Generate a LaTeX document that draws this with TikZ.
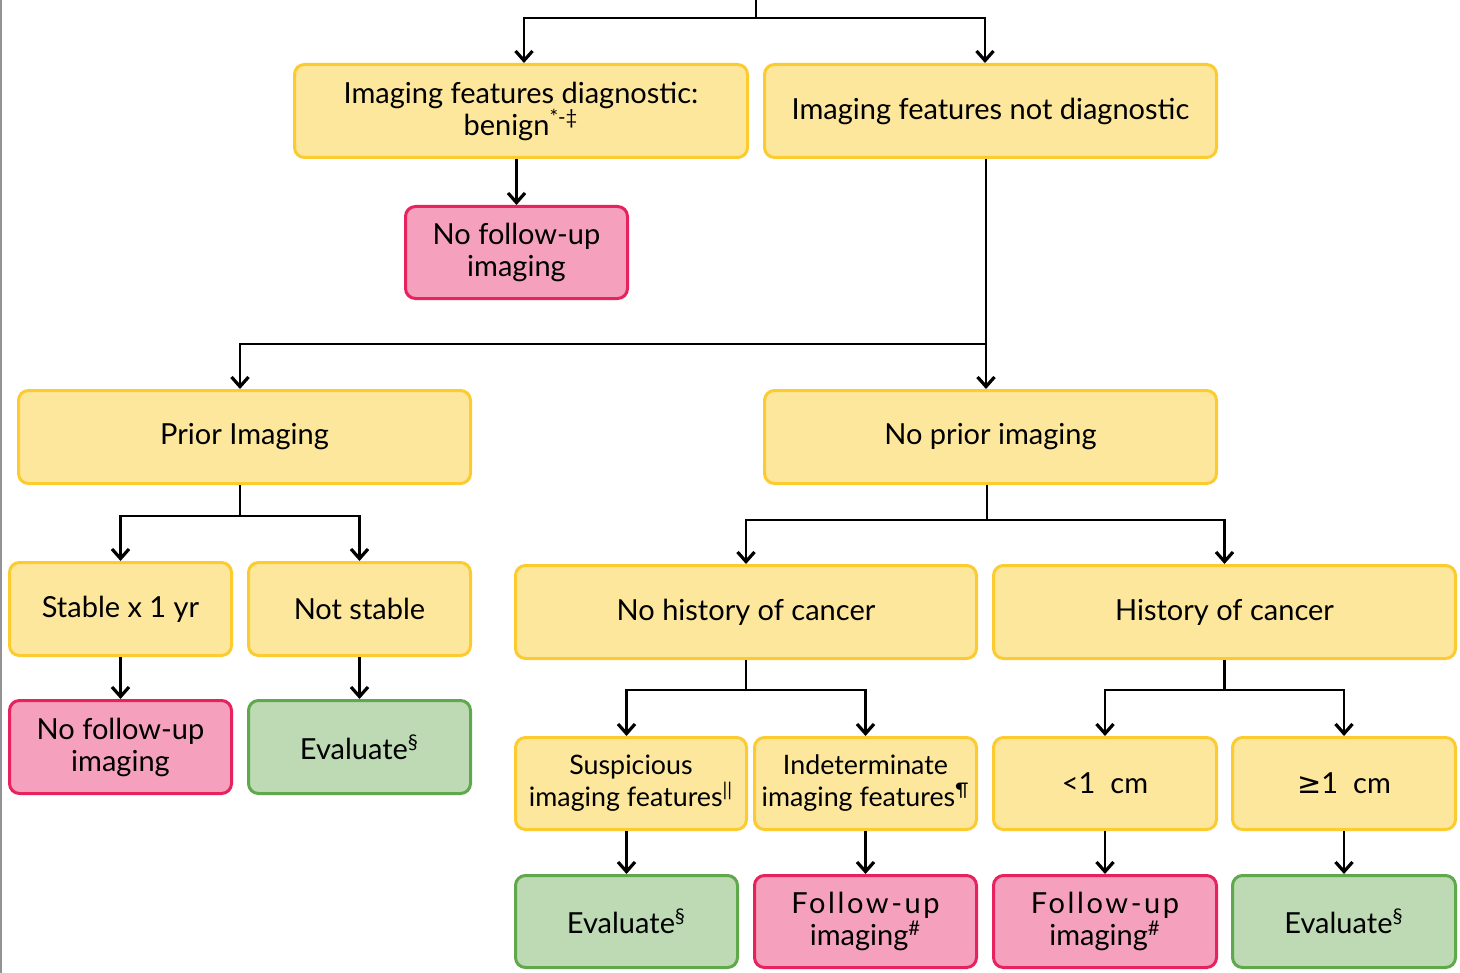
\documentclass[tikz,border=0pt]{standalone}
\usepackage{fontspec}
\setmainfont{Lato}
\newfontfamily\symfont{DejaVu Sans}
\usetikzlibrary{arrows.meta}
\definecolor{yelfill}{HTML}{FCE79C}
\definecolor{yeldraw}{HTML}{FCCB30}
\definecolor{pinkfill}{HTML}{F5A1BE}
\definecolor{pinkdraw}{HTML}{E8225F}
\definecolor{grnfill}{HTML}{BDDAB5}
\definecolor{grndraw}{HTML}{60A84C}
\newcommand{\sps}[1]{\textsuperscript{#1}}
\newcommand{\spaced}[1]{{\addfontfeatures{LetterSpace=9}#1}}
\tikzset{
  x=0.5pt, y=-0.5pt,
  box/.style={rounded corners=5pt, line width=1.5pt, align=center,
    font=\fontsize{14.5}{16}\selectfont, inner sep=2pt},
  ybox/.style={box, fill=yelfill, draw=yeldraw},
  pbox/.style={box, fill=pinkfill, draw=pinkdraw},
  gbox/.style={box, fill=grnfill, draw=grndraw},
  narrow/.style={font=\fontsize{13.4}{16}\selectfont, inner xsep=0pt},
  link/.style={line width=1.2pt, draw=black},
  arr/.style={link, -{Straight Barb[length=4.8pt, width=8.5pt, line width=1.6pt]}},
}
\begin{document}
\begin{tikzpicture}
\useasboundingbox (0,0) rectangle (1460,973);
\fill[white] (0,0) rectangle (1460,973);
% left page edge
\fill[gray!85] (0,0) rectangle (2,973);

% first level
\node[ybox, minimum width=226.5pt, minimum height=46.5pt] (A) at (521,111)
  {Imaging features diagnostic:\\benign\sps{*-‡}};
\node[ybox, minimum width=226pt, minimum height=46.5pt] (B) at (990.5,111)
  {Imaging features not diagnostic};
\node[pbox, minimum width=111pt, minimum height=46pt] (C) at (516.5,252.5)
  {No follow-up\\imaging};

% second level
\node[ybox, minimum width=226pt, minimum height=46.5pt] (D) at (244.5,437) {Prior Imaging};
\node[ybox, minimum width=226pt, minimum height=46.5pt] (E) at (990.5,437) {No prior imaging};

% prior imaging branch
\node[ybox, minimum width=111pt, minimum height=46.5pt] (F) at (120.5,609) {Stable x 1 yr};
\node[ybox, minimum width=111pt, minimum height=46.5pt] (G) at (359.5,609) {Not stable};
\node[pbox, minimum width=111pt, minimum height=46.5pt] (H) at (120.5,747) {No follow-up\\imaging};
\node[gbox, minimum width=111pt, minimum height=46.5pt] (I) at (359.5,747) {Evaluate\sps{§}};

% no prior imaging branch
\node[ybox, minimum width=230.5pt, minimum height=46.5pt] (J) at (746,612) {No history of cancer};
\node[ybox, minimum width=231pt, minimum height=46.5pt] (K) at (1224.5,612) {History of cancer};
\node[ybox, narrow, minimum width=115.5pt, minimum height=46pt] (L) at (631,783.5)
  {Suspicious\\imaging features\sps{||}};
\node[ybox, narrow, minimum width=111pt, minimum height=46pt] (M) at (865.5,783.5)
  {Indeterminate\\imaging features\sps{¶}};
\node[ybox, minimum width=111.5pt, minimum height=46pt] (N) at (1105,783.5) {<1\ \ cm};
\node[ybox, minimum width=111.5pt, minimum height=46pt] (O) at (1344,783.5) {{\symfont ≥}1\ \ cm};
\node[gbox, minimum width=111pt, minimum height=46pt] (P) at (626.5,921.5) {Evaluate\sps{§}};
\node[pbox, minimum width=111pt, minimum height=46pt] (Q) at (865.5,921.5) {\spaced{Follow-up}\\imaging\sps{\#}};
\node[pbox, minimum width=111.5pt, minimum height=46pt] (R) at (1105,921.5) {\spaced{Follow-up}\\imaging\sps{\#}};
\node[gbox, minimum width=111.5pt, minimum height=46pt] (S) at (1344,921.5) {Evaluate\sps{§}};

% connectors
\coordinate (top) at (756,0);
\coordinate (j0) at (756,18);
\draw[link] (top) -- (j0);
\draw[arr] (j0) -| ([xshift=1.5pt]A.north);
\draw[arr] (j0) -| ([xshift=-2.75pt]B.north);
\draw[arr] (A.south -| C.north) -- (C.north);

\draw[arr] ([xshift=-2.25pt]B.south) -- ([xshift=-2.25pt]E.north);
\coordinate (j1) at ([xshift=-2.25pt]B.south |- 0,344);
\draw[arr] (j1) -| ([xshift=-2.25pt]D.north);

\coordinate (j2) at ([xshift=-2.25pt]D.south |- 0,516);
\draw[link] ([xshift=-2.25pt]D.south) -- (j2);
\draw[arr] (j2) -| (F.north);
\draw[arr] (j2) -| (G.north);
\draw[arr] (F.south) -- (H.north);
\draw[arr] (G.south) -- (I.north);

\coordinate (j3) at ([xshift=-1.75pt]E.south |- 0,520);
\draw[link] ([xshift=-1.75pt]E.south) -- (j3);
\draw[arr] (j3) -| (J.north);
\draw[arr] (j3) -| (K.north);

\coordinate (j4) at (J.south |- 0,690);
\draw[link] (J.south) -- (j4);
\draw[arr] (j4) -| (L.north -| P.north);
\draw[arr] (j4) -| (M.north);

\coordinate (j5) at (K.south |- 0,690);
\draw[link] (K.south) -- (j5);
\draw[arr] (j5) -| (N.north);
\draw[arr] (j5) -| (O.north);

\draw[arr] (L.south -| P.north) -- (P.north);
\draw[arr] (M.south) -- (Q.north);
\draw[arr] (N.south) -- (R.north);
\draw[arr] (O.south) -- (S.north);
\end{tikzpicture}
\end{document}
